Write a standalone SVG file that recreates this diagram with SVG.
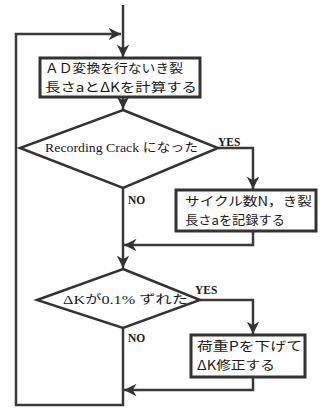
<svg xmlns="http://www.w3.org/2000/svg" width="320" height="409" viewBox="0 0 320 409">
<style>
.ln{fill:none;stroke:#3a3a3a;stroke-width:2.5;stroke-linejoin:miter}
.bx{fill:#fff;stroke:#333;stroke-width:3}
.dm{fill:#fff;stroke:#333;stroke-width:2.5;stroke-linejoin:miter}
.jp{font-family:"Noto Sans CJK JP","Liberation Serif",sans-serif;font-size:12.5px;fill:#1a1a1a}
.lt{font-family:"Liberation Serif","Noto Sans CJK JP",serif;font-size:12px;fill:#1a1a1a}
.lb{font-family:"Liberation Serif",serif;font-size:11.5px;font-weight:bold;fill:#1a1a1a}
</style>
<defs>
<marker id="ah" viewBox="0 0 10 10" refX="10" refY="5" markerWidth="5" markerHeight="5" markerUnits="strokeWidth" orient="auto">
<path d="M0,0 L10,5 L0,10 L3,5 z" fill="#333"/>
</marker>
</defs>
<g id="connectors">
<path class="ln" d="M123,5 V57" marker-end="url(#ah)"/>
<path class="ln" d="M123,97 V109" marker-end="url(#ah)"/>
<path class="ln" d="M218,148 H253 V189" marker-end="url(#ah)"/>
<path class="ln" d="M253,231 V245 H124" marker-end="url(#ah)"/>
<path class="ln" d="M123,188 V268" marker-end="url(#ah)"/>
<path class="ln" d="M200,300 H253 V334" marker-end="url(#ah)"/>
<path class="ln" d="M253,377 V390 H124" marker-end="url(#ah)"/>
<path class="ln" d="M123,328 V405 H16 V34 H121" marker-end="url(#ah)"/>
</g>
<g id="box1">
<rect class="bx" x="40" y="58" width="160" height="39"/>
<text class="jp" x="45" y="73" textLength="138" lengthAdjust="spacingAndGlyphs">ＡＤ変換を行ないき裂</text>
<text class="jp" x="45" y="92" textLength="152" lengthAdjust="spacingAndGlyphs">長さaとΔKを計算する</text>
</g>
<g id="dec1">
<polygon class="dm" points="123,110 218,148 123,188 20,148"/>
<text class="lt" x="45" y="152" textLength="153" lengthAdjust="spacingAndGlyphs">Recording Crack になった</text>
<text class="lb" x="218" y="146">YES</text>
<text class="lb" x="128" y="204">NO</text>
</g>
<g id="box2">
<rect class="bx" x="176" y="190" width="140" height="41"/>
<text class="jp" x="185" y="206" textLength="127" lengthAdjust="spacingAndGlyphs">サイクル数N，き裂</text>
<text class="jp" x="185" y="225" textLength="100" lengthAdjust="spacingAndGlyphs">長さaを記録する</text>
</g>
<g id="dec2">
<polygon class="dm" points="123,269 200,300 123,328 37,300"/>
<text class="lt" x="63" y="304" textLength="125" lengthAdjust="spacingAndGlyphs">ΔKが0.1% ずれた</text>
<text class="lb" x="195" y="294">YES</text>
<text class="lb" x="128" y="342">NO</text>
</g>
<g id="box3">
<rect class="bx" x="191" y="335" width="114" height="42"/>
<text class="jp" x="197" y="351" textLength="105" lengthAdjust="spacingAndGlyphs">荷重Pを下げて</text>
<text class="jp" x="197" y="370" textLength="78" lengthAdjust="spacingAndGlyphs">ΔK修正する</text>
</g>
</svg>
